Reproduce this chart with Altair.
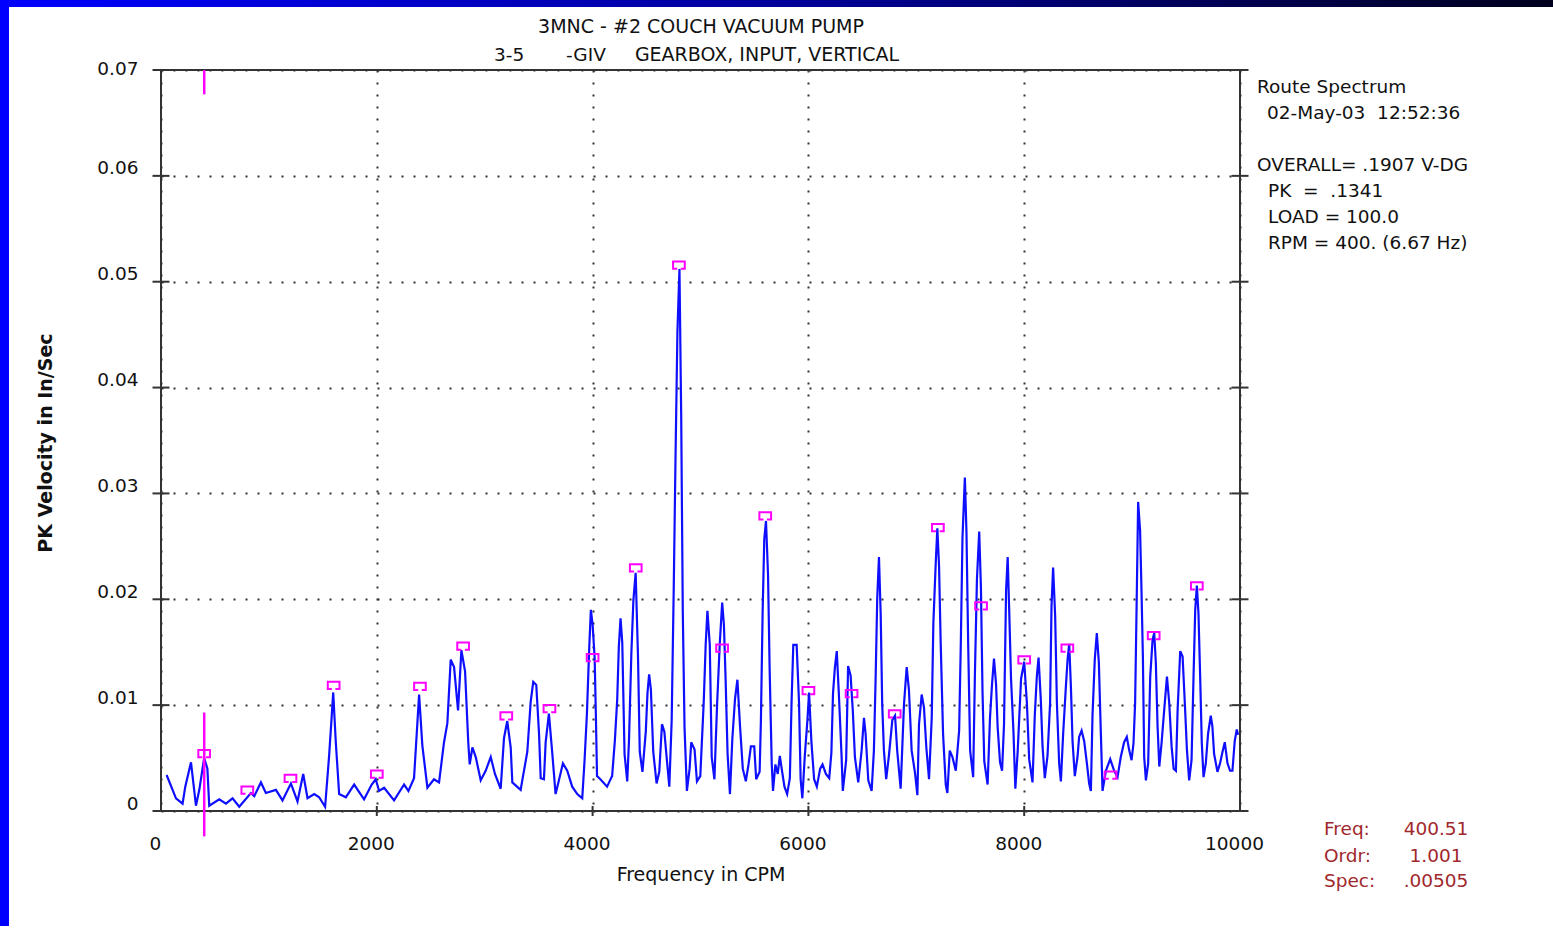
import altair as alt
import pandas as pd

# ---------------- data ----------------
freq = [52, 139, 200, 225, 278, 324, 355, 400, 430, 447, 540, 602, 663, 725, 833, 864, 926, 972,
        1065, 1126, 1204, 1265, 1318, 1358, 1420, 1466, 1521, 1558, 1583, 1596, 1620, 1651, 1713,
        1790, 1882, 1953, 1990, 2021, 2068, 2160, 2253, 2293, 2345, 2376, 2392, 2422, 2469, 2530,
        2577, 2623, 2654, 2685, 2716, 2753, 2784, 2818, 2848, 2861, 2886, 2917, 2963, 3009, 3056,
        3095, 3148, 3179, 3209, 3241, 3256, 3333, 3395, 3426, 3450, 3478, 3503, 3519, 3549, 3565,
        3595, 3626, 3657, 3688, 3725, 3765, 3811, 3858, 3904, 3925, 3947, 3969, 3984, 4000, 4019,
        4031, 4041, 4072, 4134, 4181, 4206, 4228, 4243, 4259, 4275, 4296, 4321, 4337, 4359, 4378,
        4399, 4421, 4437, 4462, 4493, 4509, 4524, 4540, 4562, 4593, 4618, 4643, 4665, 4686, 4711,
        4733, 4752, 4768, 4786, 4805, 4821, 4836, 4852, 4874, 4899, 4914, 4945, 4967, 4998, 5030,
        5048, 5064, 5086, 5104, 5129, 5154, 5179, 5201, 5217, 5232, 5251, 5273, 5295, 5320, 5342,
        5367, 5392, 5420, 5445, 5467, 5498, 5516, 5548, 5560, 5576, 5591, 5607, 5626, 5641, 5660,
        5672, 5694, 5716, 5735, 5757, 5778, 5803, 5828, 5844, 5860, 5891, 5913, 5928, 5944, 5966,
        5991, 6006, 6028, 6053, 6078, 6109, 6131, 6162, 6193, 6213, 6228, 6245, 6263, 6282, 6307,
        6319, 6350, 6368, 6391, 6412, 6431, 6462, 6493, 6515, 6530, 6555, 6586, 6607, 6623, 6638,
        6654, 6670, 6684, 6700, 6721, 6746, 6778, 6803, 6823, 6855, 6886, 6911, 6932, 6957, 6988,
        7010, 7025, 7050, 7071, 7093, 7118, 7143, 7158, 7180, 7195, 7211, 7226, 7248, 7273, 7288,
        7310, 7335, 7366, 7397, 7413, 7428, 7450, 7465, 7481, 7499, 7527, 7543, 7562, 7583, 7599,
        7614, 7630, 7661, 7683, 7702, 7720, 7739, 7754, 7776, 7795, 7813, 7832, 7847, 7862, 7878,
        7900, 7918, 7940, 7971, 8000, 8025, 8046, 8077, 8098, 8117, 8133, 8154, 8170, 8191, 8216,
        8240, 8253, 8268, 8287, 8303, 8324, 8340, 8361, 8386, 8402, 8417, 8433, 8448, 8469, 8494,
        8509, 8532, 8556, 8581, 8602, 8618, 8633, 8654, 8673, 8692, 8704, 8726, 8757, 8797, 8834,
        8865, 8895, 8926, 8951, 8972, 8995, 9013, 9028, 9044, 9056, 9074, 9087, 9100, 9112, 9128,
        9149, 9168, 9190, 9205, 9220, 9236, 9252, 9273, 9298, 9323, 9344, 9366, 9385, 9406, 9422,
        9446, 9468, 9490, 9508, 9529, 9551, 9570, 9585, 9600, 9615, 9630, 9646, 9662, 9683, 9704,
        9729, 9744, 9760, 9791, 9815, 9838, 9859, 9884, 9908, 9930, 9951, 9970, 9982]

amp = [0.0034, 0.0012, 0.0007, 0.0023, 0.0046, 0.0005, 0.0020, 0.0050, 0.0040, 0.0005, 0.0011,
       0.0007, 0.0012, 0.0004, 0.0017, 0.0014, 0.0027, 0.0017, 0.0020, 0.0010, 0.0026, 0.0009,
       0.0035, 0.0012, 0.0016, 0.0013, 0.0004, 0.0052, 0.0091, 0.0112, 0.0065, 0.0016, 0.0013,
       0.0025, 0.0011, 0.0025, 0.0030, 0.0019, 0.0022, 0.0010, 0.0025, 0.0019, 0.0031, 0.0083,
       0.0110, 0.0062, 0.0022, 0.0030, 0.0027, 0.0065, 0.0083, 0.0143, 0.0136, 0.0095, 0.0152,
       0.0132, 0.0064, 0.0044, 0.0060, 0.0051, 0.0029, 0.0038, 0.0051, 0.0035, 0.0021, 0.0069,
       0.0085, 0.0060, 0.0027, 0.0020, 0.0056, 0.0103, 0.0122, 0.0119, 0.0074, 0.0031, 0.0030,
       0.0065, 0.0092, 0.0055, 0.0016, 0.0029, 0.0045, 0.0038, 0.0023, 0.0016, 0.0012, 0.0047,
       0.0091, 0.0155, 0.0190, 0.0176, 0.0145, 0.0087, 0.0033, 0.0030, 0.0023, 0.0033, 0.0066,
       0.0105, 0.0155, 0.0182, 0.0159, 0.0054, 0.0028, 0.0066, 0.0148, 0.0199, 0.0225, 0.0145,
       0.0056, 0.0037, 0.0075, 0.0112, 0.0129, 0.0115, 0.0056, 0.0026, 0.0037, 0.0082, 0.0075,
       0.0051, 0.0023, 0.0086, 0.0211, 0.0330, 0.0452, 0.0512, 0.0375, 0.0187, 0.0079, 0.0019,
       0.0040, 0.0065, 0.0058, 0.0028, 0.0033, 0.0103, 0.0157, 0.0189, 0.0157, 0.0051, 0.0030,
       0.0101, 0.0159, 0.0197, 0.0176, 0.0127, 0.0054, 0.0016, 0.0068, 0.0106, 0.0124, 0.0079,
       0.0040, 0.0028, 0.0044, 0.0061, 0.0061, 0.0030, 0.0037, 0.0086, 0.0189, 0.0257, 0.0274,
       0.0223, 0.0133, 0.0045, 0.0019, 0.0044, 0.0035, 0.0052, 0.0037, 0.0023, 0.0016, 0.0031,
       0.0103, 0.0157, 0.0157, 0.0103, 0.0030, 0.0012, 0.0051, 0.0086, 0.0112, 0.0065, 0.0030,
       0.0023, 0.0040, 0.0044, 0.0035, 0.0031, 0.0055, 0.0111, 0.0135, 0.0151, 0.0111, 0.0053,
       0.0019, 0.0048, 0.0137, 0.0128, 0.0094, 0.0051, 0.0027, 0.0057, 0.0088, 0.0073, 0.0029,
       0.0019, 0.0057, 0.0125, 0.0201, 0.0240, 0.0186, 0.0101, 0.0057, 0.0030, 0.0052, 0.0086,
       0.0090, 0.0057, 0.0021, 0.0101, 0.0136, 0.0114, 0.0057, 0.0036, 0.0015, 0.0082, 0.0110,
       0.0098, 0.0060, 0.0030, 0.0088, 0.0177, 0.0234, 0.0267, 0.0231, 0.0159, 0.0073, 0.0025,
       0.0017, 0.0057, 0.0051, 0.0038, 0.0076, 0.0161, 0.0258, 0.0315, 0.0263, 0.0157, 0.0057,
       0.0032, 0.0128, 0.0219, 0.0264, 0.0211, 0.0111, 0.0047, 0.0025, 0.0088, 0.0120, 0.0144,
       0.0120, 0.0079, 0.0046, 0.0038, 0.0082, 0.0208, 0.0240, 0.0186, 0.0125, 0.0076, 0.0021,
       0.0057, 0.0125, 0.0141, 0.0102, 0.0049, 0.0027, 0.0090, 0.0127, 0.0145, 0.0105, 0.0061,
       0.0031, 0.0052, 0.0102, 0.0193, 0.0230, 0.0184, 0.0102, 0.0045, 0.0028, 0.0073, 0.0117,
       0.0143, 0.0158, 0.0117, 0.0066, 0.0033, 0.0051, 0.0070, 0.0076, 0.0066, 0.0045, 0.0026,
       0.0019, 0.0090, 0.0143, 0.0168, 0.0140, 0.0096, 0.0019, 0.0038, 0.0049, 0.0038, 0.0032,
       0.0051, 0.0065, 0.0070, 0.0058, 0.0048, 0.0064, 0.0102, 0.0209, 0.0292, 0.0265, 0.0209,
       0.0146, 0.0051, 0.0029, 0.0045, 0.0127, 0.0162, 0.0168, 0.0140, 0.0080, 0.0042, 0.0064,
       0.0096, 0.0127, 0.0102, 0.0061, 0.0040, 0.0038, 0.0096, 0.0151, 0.0146, 0.0099, 0.0058,
       0.0029, 0.0048, 0.0130, 0.0190, 0.0213, 0.0187, 0.0130, 0.0064, 0.0032, 0.0045, 0.0073,
       0.0090, 0.0080, 0.0054, 0.0037, 0.0045, 0.0056, 0.0065, 0.0045, 0.0038, 0.0038, 0.0066,
       0.0077, 0.0072]

harmonic_freq = [400, 800, 1200, 1600, 2000, 2400, 2800, 3200, 3600, 4000, 4400, 4800,
                 5200, 5600, 6000, 6400, 6800, 7200, 7600, 8000, 8400, 8800, 9200, 9600]
harmonic_amp = [0.00505, 0.0016, 0.0027, 0.0115, 0.0031, 0.0114, 0.0152, 0.0086, 0.0093, 0.0141,
                0.0226, 0.0512, 0.0150, 0.0275, 0.0110, 0.0107, 0.0088, 0.0264, 0.0190, 0.0139,
                0.0150, 0.0030, 0.0162, 0.0209]

cursor_freq = [400.51, 400.51]
cursor_lo = [-0.0024, 0.0677]
cursor_hi = [0.0093, 0.07]

x_ticks = [0, 2000, 4000, 6000, 8000, 10000]
y_ticks = [0.0, 0.01, 0.02, 0.03, 0.04, 0.05, 0.06, 0.07]
x_inner_ticks = [2000, 4000, 6000, 8000]

title_1 = "3MNC - #2 COUCH VACUUM PUMP"
title_2_parts = ["3-5", "-GIV", "GEARBOX, INPUT, VERTICAL"]
y_title = "PK Velocity in In/Sec"
x_title = "Frequency in CPM"
info_lines = ["Route Spectrum", "02-May-03\u00a0\u00a012:52:36", "OVERALL= .1907 V-DG",
              "PK\u00a0\u00a0=\u00a0\u00a0.1341", "LOAD = 100.0", "RPM = 400. (6.67 Hz)"]
readout_labels = ["Freq:", "Ordr:", "Spec:"]
readout_values = ["400.51", "1.001", ".00505"]

# ---------------- layout ----------------
PL, PT, W, H = 161, 70, 1079, 741
TOTAL_W, TOTAL_H = 1553, 926
FONT = "DejaVu Sans"

xs = alt.Scale(domain=[0, 10000], nice=False, zero=False)
ys = alt.Scale(domain=[0, 0.07], nice=False, zero=False)

spec_df = pd.DataFrame({"f": freq, "a": amp})
harm_df = pd.DataFrame({"f": harmonic_freq, "a": harmonic_amp})
cursor_df = pd.DataFrame({"f": cursor_freq, "a": cursor_lo, "hi": cursor_hi})
one = pd.DataFrame({"k": [0]})

x_axis = alt.Axis(values=x_ticks, format="d", title=None, grid=True, gridDash=[2, 10],
                  gridColor="#333", gridWidth=2, domain=False, ticks=False, tickSize=0,
                  labelPadding=23, labelOffset=-6, labelFlush=False, labelOverlap=False,
                  labelFont=FONT, labelFontSize=18.5, labelColor="#111")
y_axis = alt.Axis(values=y_ticks, title=None, grid=True, gridDash=[2, 10], gridColor="#333",
                  gridWidth=2, domain=False, ticks=False, tickSize=0, labelPadding=23,
                  labelOffset=-2, labelFlush=False, labelOverlap=False,
                  labelExpr="datum.value == 0 ? '0' : format(datum.value, '.2f')",
                  labelBaseline={"condition": {"test": "datum.value >= 0.069", "value": "middle"},
                                 "value": "alphabetic"},
                  labelFont=FONT, labelFontSize=18.5, labelColor="#111")


def xenc():
    return alt.X("f:Q", scale=xs, axis=x_axis)


def yenc():
    return alt.Y("a:Q", scale=ys, axis=y_axis)


spectrum = alt.Chart(spec_df).mark_line(color="#0f0fff", strokeWidth=2.2).encode(
    x=xenc(), y=yenc())

left_ticks = alt.Chart(pd.DataFrame({"f": [0] * len(y_ticks), "a": y_ticks})).mark_tick(
    orient="horizontal", thickness=2, color="#333", opacity=1).encode(
    x=xenc(), y=yenc(), size=alt.value(17))
right_ticks = alt.Chart(pd.DataFrame({"f": [10000] * len(y_ticks), "a": y_ticks})).mark_tick(
    orient="horizontal", thickness=2, color="#333", opacity=1).encode(
    x=xenc(), y=yenc(), size=alt.value(17))
bottom_ticks = alt.Chart(pd.DataFrame({"f": x_inner_ticks, "a": [0] * len(x_inner_ticks)})).mark_tick(
    orient="vertical", thickness=2, color="#333", opacity=1).encode(
    x=xenc(), y=yenc(), size=alt.value(10))

cursor = alt.Chart(cursor_df).mark_rule(color="#ff00ff", strokeWidth=2.5).encode(
    x=xenc(), y=yenc(), y2="hi:Q")

box_shape = "M -0.3 0.62 L -1 0.62 L -1 -0.62 L 1 -0.62 L 1 0.62 L 0.3 0.62"
markers = alt.Chart(harm_df).mark_point(shape=box_shape, filled=False, color="#ff00ff",
                                        strokeWidth=2, size=137, opacity=1).encode(
    x=xenc(), y=yenc(), yOffset=alt.value(-4))

border_left = alt.Chart(one).mark_rect(color="#0000ff").encode(
    x=alt.value(-PL), x2=alt.value(-PL + 9), y=alt.value(-PT), y2=alt.value(TOTAL_H - PT))
border_top = alt.Chart(one).mark_rect(
    color=alt.LinearGradient(gradient="linear",
                             stops=[alt.GradientStop(color="#0000ff", offset=0),
                                    alt.GradientStop(color="#000090", offset=0.55),
                                    alt.GradientStop(color="#00001e", offset=1)],
                             x1=0, x2=1, y1=0, y2=0)).encode(
    x=alt.value(-PL), x2=alt.value(TOTAL_W - PL), y=alt.value(-PT), y2=alt.value(-PT + 7))


def text(txt, x, y, size=18.5, align="left", color="#111", weight="normal", angle=0,
         baseline="alphabetic"):
    return alt.Chart(one).mark_text(text=txt, align=align, baseline=baseline, font=FONT,
                                    fontSize=size, fontWeight=weight, color=color,
                                    angle=angle).encode(x=alt.value(x - PL), y=alt.value(y - PT))


texts = [
    text(title_1, 701, 33, size=19, align="center"),
    text(title_2_parts[0], 494, 61, size=18.5),
    text(title_2_parts[1], 566, 61, size=18.5),
    text(title_2_parts[2], 767, 61, size=19, align="center"),
    text(x_title, 701, 881, size=19, align="center"),
    text(y_title, 46, 443, size=19, align="center", weight="bold", angle=270, baseline="middle"),
]
info_x = [1257, 1267, 1257, 1268, 1268, 1268]
info_y = [93, 119, 171, 197, 223, 249]
for t, xx, yy in zip(info_lines, info_x, info_y):
    texts.append(text(t, xx, yy, size=18.5))
readout_y = [835, 862, 887]
for lab, val, yy in zip(readout_labels, readout_values, readout_y):
    texts.append(text(lab, 1324, yy, size=18.5, color="#a0282d"))
    texts.append(text(val, 1436, yy, size=18.5, align="center", color="#a0282d"))

chart = alt.layer(
    border_left, border_top, spectrum, left_ticks, right_ticks, bottom_ticks, cursor, markers,
    *texts
).properties(
    width=W, height=H,
    autosize=alt.AutoSizeParams(type="none"),
    padding={"left": PL, "top": PT, "right": TOTAL_W - PL - W, "bottom": TOTAL_H - PT - H},
).configure(background="white").configure_view(stroke="#333", strokeWidth=2)

chart.save("out.html", embed_options={"renderer": "svg", "actions": False})
